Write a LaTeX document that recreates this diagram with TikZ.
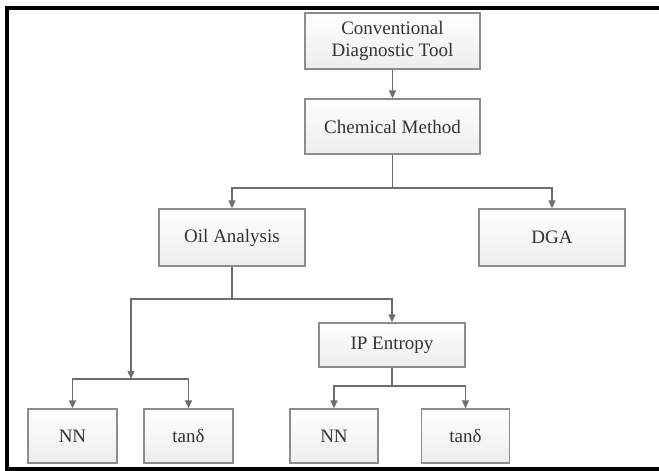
\documentclass[tikz,border=0pt]{standalone}
\usepackage{fontspec}
\setmainfont{Liberation Serif}
\usetikzlibrary{arrows.meta}
\definecolor{linegray}{HTML}{6E6E6E}
\definecolor{boxedge}{HTML}{8C8C8C}
\definecolor{txtgray}{HTML}{333333}
\begin{document}
\begin{tikzpicture}[x=1pt,y=-1pt,
  box/.style={draw=boxedge, line width=1.3pt, top color=white, bottom color=gray!14,
    text=txtgray, font=\fontsize{19}{21.5}\selectfont, inner sep=0pt, align=center},
  conn/.style={draw=linegray, line width=1.3pt},
  arr/.style={conn, -{Triangle[width=7pt,length=8pt]}}]
\useasboundingbox (0,0) rectangle (659,471);
\fill[white] (0,0) rectangle (659,471);
% frame
\draw[line width=4pt] (659,8) -- (7,8) -- (7,469) -- (659,469);
% nodes
\node[box, minimum width=175pt, minimum height=56pt] (cdt) at (392.5,41) {Conventional\\Diagnostic Tool};
\node[box, minimum width=175pt, minimum height=55pt] (chem) at (392.5,126.5) {Chemical Method};
\node[box, minimum width=146pt, minimum height=57pt] (oil) at (232,237.5) {Oil Analysis};
\node[box, minimum width=146pt, minimum height=57pt] (dga) at (552,237.5) {DGA};
\node[box, minimum width=146pt, minimum height=44pt] (ip) at (392,345) {IP Entropy};
\node[box, minimum width=89pt, minimum height=54pt] (nn1) at (72.5,436) {NN};
\node[box, minimum width=89pt, minimum height=54pt] (tan1) at (188.5,436) {tanδ};
\node[box, minimum width=88pt, minimum height=54pt] (nn2) at (334,436) {NN};
\node[box, minimum width=88pt, minimum height=54pt] (tan2) at (465.5,436) {tanδ};
% connectors
\draw[arr] (cdt) -- (chem);
\coordinate (j1) at (392.5,188);
\draw[conn] (chem.south) -- (j1);
\draw[arr] (j1) -| (oil.north);
\draw[arr] (j1) -| (dga.north);
\coordinate (j2) at (232,299);
\draw[conn] (oil.south) -- (j2);
\draw[arr] (j2) -| (ip.north);
\coordinate (j3) at (131,379);
\draw[arr] (j2) -| (j3);
\draw[arr] (j3) -| (nn1.north);
\draw[arr] (j3) -| (tan1.north);
\coordinate (j4) at (392,386);
\draw[conn] (ip.south) -- (j4);
\draw[arr] (j4) -| (nn2.north);
\draw[arr] (j4) -| (tan2.north);
\end{tikzpicture}
\end{document}
